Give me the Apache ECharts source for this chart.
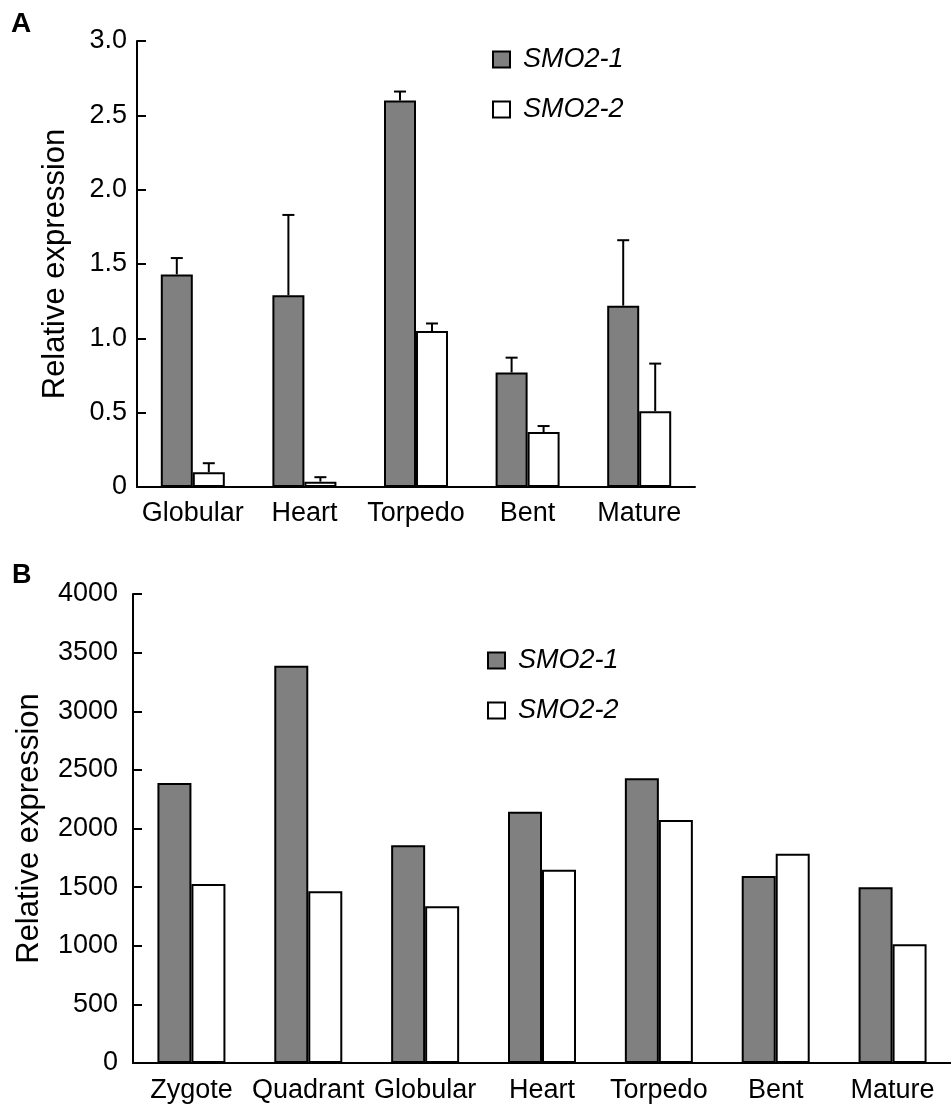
<!DOCTYPE html>
<html>
<head>
<meta charset="utf-8">
<script src="https://cdn.jsdelivr.net/npm/echarts@6/dist/echarts.min.js"></script>
<style>
  html, body { margin: 0; padding: 0; background: #fff; }
  #chart { width: 951px; height: 1106px; }
</style>
</head>
<body>
<div id="chart"></div>
<script>
// panel A: embryo stages, relative expression with SD
const stagesA = ['Globular', 'Heart', 'Torpedo', 'Bent', 'Mature']
const smo21A = [1.43, 1.29, 2.60, 0.77, 1.22]
const smo21ErrA = [0.11, 0.54, 0.06, 0.10, 0.44]
const smo22A = [0.10, 0.036, 1.05, 0.37, 0.51]
const smo22ErrA = [0.06, 0.03, 0.05, 0.04, 0.32]

// panel B
const stagesB = ['Zygote', 'Quadrant', 'Globular', 'Heart', 'Torpedo', 'Bent', 'Mature']
const smo21B = [2387, 3389, 1858, 2142, 2428, 1594, 1499]
const smo22B = [1527, 1464, 1337, 1648, 2072, 1785, 1012]

const FONT = '"Liberation Sans", Arial, sans-serif'
const black = '#000'

function errSeries(vals, errs, offset) {
  return {
    type: 'custom',
    name: 'err',
    xAxisIndex: 0,
    yAxisIndex: 0,
    z: 5,
    data: vals.map((v, i) => [i, v, errs[i]]),
    encode: { x: 0, y: 1 },
    renderItem: (params, api) => {
      const i = api.value(0)
      const v = api.value(1)
      const e = api.value(2)
      const base = api.coord([i, v])
      const top = api.coord([i, v + e])
      const x = base[0] + offset
      const st = { stroke: black, lineWidth: 2 }
      return {
        type: 'group',
        children: [
          { type: 'line', shape: { x1: x, y1: base[1], x2: x, y2: top[1] }, style: st },
          { type: 'line', shape: { x1: x - 6, y1: top[1], x2: x + 6, y2: top[1] }, style: st },
        ],
      }
    },
  }
}

function catAxis(idx, data, margin) {
  return {
    type: 'category',
    gridIndex: idx,
    data: data,
    boundaryGap: true,
    axisLine: { lineStyle: { color: black, width: 2 } },
    axisTick: { inside: true, length: 9, lineStyle: { color: black, width: 2 } },
    axisLabel: { color: black, fontSize: 27, fontFamily: FONT, margin: margin, interval: 0 },
  }
}

function valAxis(idx, max, interval, fmt, labelMargin, nameGap) {
  return {
    type: 'value',
    gridIndex: idx,
    min: 0,
    max: max,
    interval: interval,
    name: 'Relative expression',
    nameLocation: 'middle',
    nameGap: nameGap,
    nameTextStyle: { color: black, fontSize: 31, fontFamily: FONT },
    axisLine: { show: true, lineStyle: { color: black, width: 2 } },
    axisTick: { show: true, inside: true, length: 9, lineStyle: { color: black, width: 2 } },
    axisLabel: { color: black, fontSize: 27, fontFamily: FONT, margin: labelMargin, formatter: fmt },
    splitLine: { show: false },
  }
}

const legendBase = {
  orient: 'vertical',
  data: ['SMO2-1', 'SMO2-2'],
  icon: 'rect',
  itemWidth: 17,
  itemHeight: 16,
  itemGap: 23,
  itemStyle: { borderColor: black, borderWidth: 2 },
  textStyle: { color: black, fontSize: 27, fontStyle: 'italic', fontFamily: FONT, padding: [0, 0, 0, 8] },
  selectedMode: false,
}

const barStyle = (c) => ({ color: c, borderColor: black, borderWidth: 2 })

const chart = echarts.init(document.getElementById('chart'), null, { renderer: 'canvas' })
chart.setOption({
  backgroundColor: '#fff',
  animation: false,
  graphic: [
    { type: 'text', left: 11, top: 10, style: { text: 'A', fontSize: 28, fontWeight: 'bold', fontFamily: FONT, fill: black } },
    { type: 'text', left: 12, top: 562, style: { text: 'B', fontSize: 27, fontWeight: 'bold', fontFamily: FONT, fill: black } },
  ],
  grid: [
    { left: 137, top: 41, width: 558, height: 446 },
    { left: 133, top: 594, width: 824, height: 469 },
  ],
  legend: [
    Object.assign({}, legendBase, { left: 487, top: 41 }),
    Object.assign({}, legendBase, { left: 482, top: 642 }),
  ],
  xAxis: [catAxis(0, stagesA, 13), catAxis(1, stagesB, 14)],
  yAxis: [
    valAxis(0, 3, 0.5, (v) => (v === 0 ? '0' : v.toFixed(1)), 10, 66),
    valAxis(1, 4000, 500, (v) => String(v), 15, 88),
  ],
  series: [
    { type: 'bar', name: 'SMO2-1', xAxisIndex: 0, yAxisIndex: 0, data: smo21A, barWidth: 32, barGap: '0%', itemStyle: barStyle('#808080') },
    { type: 'bar', name: 'SMO2-2', xAxisIndex: 0, yAxisIndex: 0, data: smo22A, barWidth: 32, barGap: '0%', itemStyle: barStyle('#fff') },
    errSeries(smo21A, smo21ErrA, -16),
    errSeries(smo22A, smo22ErrA, 16),
    { type: 'bar', name: 'SMO2-1', xAxisIndex: 1, yAxisIndex: 1, data: smo21B, barWidth: 34, barGap: '0%', itemStyle: barStyle('#808080') },
    { type: 'bar', name: 'SMO2-2', xAxisIndex: 1, yAxisIndex: 1, data: smo22B, barWidth: 34, barGap: '0%', itemStyle: barStyle('#fff') },
  ],
})
</script>
</body>
</html>
